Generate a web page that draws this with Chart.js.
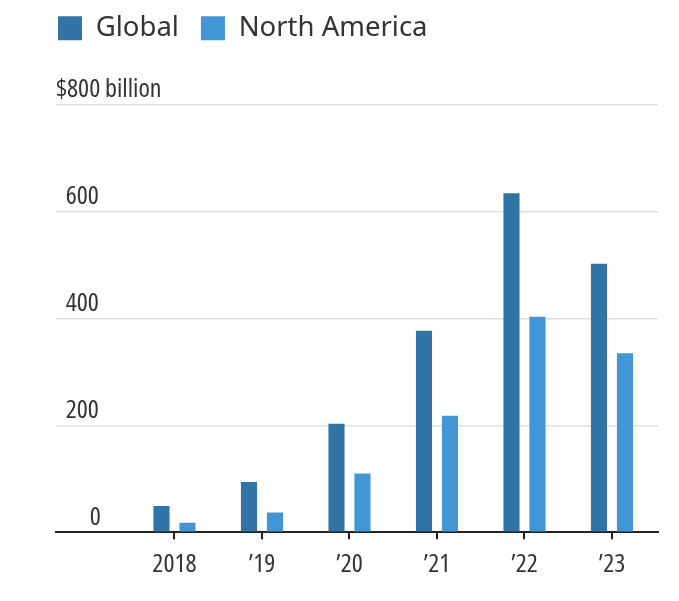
<!DOCTYPE html>
<html>
<head>
<meta charset="utf-8">
<script src="https://cdn.jsdelivr.net/npm/chart.js@4/dist/chart.umd.min.js"></script>
<style>
  html, body { margin: 0; padding: 0; background: #fff; }
  canvas { display: block; }
</style>
</head>
<body>
<canvas id="chart" width="679" height="601"></canvas>
<script>
const YEARS = [2018, 2019, 2020, 2021, 2022, 2023];
const YEAR_LABELS = ['2018', '\u201919', '\u201920', '\u201921', '\u201922', '\u201923'];
const GLOBAL = [49, 94, 203, 377, 634, 502];
const NORTH_AMERICA = [18, 37, 110, 218, 403, 335];
const Y_TICKS = [0, 200, 400, 600, 800];
const Y_TICK_LABELS = ['0', '200', '400', '600', '$800 billion'];

// narrow face; font-stretch goes in the weight slot of the font string
const NARROW = { family: "'Open Sans', 'Noto Sans', sans-serif", weight: '400 condensed', size: 26 };

// pad numbers with spaces so they line up with the "$800" on top
function yLabel(value) {
    const i = Y_TICKS.indexOf(value);
    if (i < 0) return '';
    const txt = Y_TICK_LABELS[i];
    if (value === 800) return txt;
    return ' '.repeat(Math.round(2.33 * (4 - txt.length))) + txt;
}

// make room between the legend and the plot
const legendSpacer = {
    id: 'legendSpacer',
    beforeInit(chart) {
        const fit = chart.legend.fit;
        chart.legend.fit = function () {
            fit.bind(chart.legend)();
            this.height = 112;
        };
    }
};

new Chart(document.getElementById('chart'), {
    type: 'bar',
    data: {
        datasets: [
            { label: 'Global', data: YEARS.map((x, i) => ({ x, y: GLOBAL[i] })), backgroundColor: '#3274a6', borderWidth: 0 },
            { label: 'North America', data: YEARS.map((x, i) => ({ x, y: NORTH_AMERICA[i] })), backgroundColor: '#4396d6', borderWidth: 0 },
        ],
    },
    options: {
        responsive: false,
        animation: false,
        devicePixelRatio: 1,
        categoryPercentage: 0.594,
        barPercentage: 0.62,
        layout: { padding: { top: -7.5, left: 36, right: 21, bottom: 10.5 } },
        plugins: {
            legend: {
                align: 'start',
                labels: {
                    boxWidth: 24,
                    boxHeight: 24,
                    padding: 22,
                    color: '#333',
                    font: { family: "'Noto Sans', sans-serif", size: 27.5 },
                },
            },
            tooltip: { enabled: false },
        },
        scales: {
            x: {
                type: 'linear',
                min: 2016.646,
                max: 2023.526,
                offset: false,
                afterBuildTicks: axis => { axis.ticks = YEARS.map(v => ({ value: v })); },
                grid: { offset: false, drawOnChartArea: false, drawTicks: true, tickLength: 7, color: '#222', lineWidth: 2 },
                border: { display: true, color: '#222', width: 2 },
                ticks: {
                    autoSkip: false,
                    maxRotation: 0,
                    padding: 10,
                    color: '#333',
                    font: NARROW,
                    callback: value => YEAR_LABELS[YEARS.indexOf(value)] || '',
                },
            },
            y: {
                min: 0,
                max: 800,
                afterFit: s => { s.width = 20; },
                afterBuildTicks: axis => { axis.ticks = Y_TICKS.map(v => ({ value: v })); },
                grid: {
                    drawTicks: false,
                    color: ctx => (ctx.tick && ctx.tick.value === 0 ? 'rgba(0,0,0,0)' : '#dedede'),
                    lineWidth: 1.5,
                },
                border: { display: false },
                ticks: {
                    mirror: true,
                    crossAlign: 'near',
                    padding: 0,
                    labelOffset: -15,
                    color: '#333',
                    font: NARROW,
                    callback: value => yLabel(value),
                },
            },
        },
    },
    plugins: [legendSpacer],
});
</script>
</body>
</html>
